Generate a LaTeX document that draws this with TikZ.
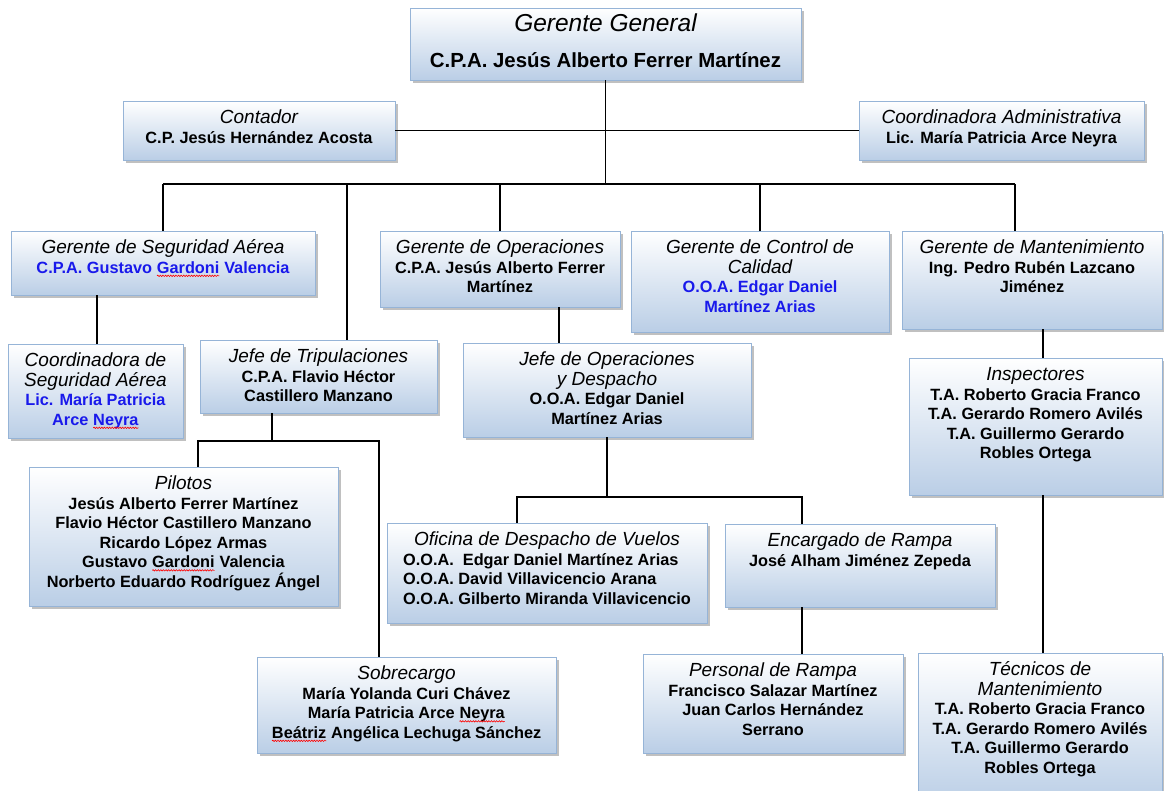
\documentclass[tikz,border=0pt]{standalone}
\usepackage{fontspec}
\setmainfont{Liberation Sans}
\usetikzlibrary{fit,shadows,decorations.pathmorphing}
\definecolor{boxbot}{RGB}{186,206,230}
\definecolor{boxline}{RGB}{150,180,215}
\definecolor{nameblue}{RGB}{25,25,235}
\tikzset{
 orgbox/.style={draw=boxline, line width=0.9pt, top color=white, bottom color=boxbot, inner sep=0pt,
   drop shadow={shadow xshift=3pt, shadow yshift=-3pt, fill=black!45, opacity=0.55}},
 orgtext/.style={align=center, inner sep=0pt, font=\fontsize{16.3}{19.5}\selectfont},
 link/.style={draw=black, line width=1.1pt},
}
\newcommand\ti{\fontsize{19}{19.5}\selectfont\itshape}
\newcommand\bd{\fontsize{16.3}{19.5}\selectfont\bfseries}
\newcommand\bl{\bd\color{nameblue}}
\newcommand\sq[1]{\tikz[baseline=(w.base)]{\node[inner sep=0pt,outer sep=0pt,font=] (w) {#1};%
 \draw[red,line width=0.6pt,decorate,decoration={snake,amplitude=0.7pt,segment length=2.6pt}]
 ([yshift=-2.6pt]w.base west) -- ([yshift=-2.6pt]w.base east);}}
\newcommand\obox[6]{\node[orgbox, fit={(#2,#3) (#4,#5)}] (#1) {};
 \node[orgtext, anchor=north] (#1-t) at ([yshift=-6pt]#1.north) {\rule{0pt}{17pt}#6};}
\begin{document}
\begin{tikzpicture}[x=1pt,y=-1pt]
\useasboundingbox (0,0) rectangle (1164,791);
\clip (0,0) rectangle (1164,791);

\obox{gg}{410}{8}{801}{80}{{\fontsize{24.5}{26}\selectfont\itshape Gerente General}\\[17pt]{\fontsize{20.4}{22}\selectfont\bfseries C.P.A. Jesús Alberto Ferrer Martínez}}
\obox{cont}{123}{101}{395}{160}{{\ti Contador}\\{\bd C.P. Jesús Hernández Acosta}}
\obox{cadm}{859}{101}{1144}{160}{{\ti Coordinadora Administrativa}\\{\bd Lic. María Patricia Arce Neyra}}
\obox{gsa}{11}{231}{315}{295}{{\ti Gerente de Seguridad Aérea}\\{\bl C.P.A. Gustavo \sq{Gardoni} Valencia}}
\obox{gop}{380}{231}{620}{307}{{\ti Gerente de Operaciones}\\{\bd C.P.A. Jesús Alberto Ferrer}\\{\bd Martínez}}
\obox{gcc}{631}{231}{889}{332}{{\ti Gerente de Control de}\\{\ti Calidad}\\{\bl O.O.A. Edgar Daniel}\\{\bl Martínez Arias}}
\obox{gm}{902}{231}{1162}{329}{{\ti Gerente de Mantenimiento}\\{\bd Ing. Pedro Rubén Lazcano}\\{\bd Jiménez}}
\obox{csa}{8}{344}{183}{438}{{\ti Coordinadora de}\\{\ti Seguridad Aérea}\\{\bl Lic. María Patricia}\\{\bl Arce \sq{Neyra}}}
\obox{jt}{200}{340}{437}{413}{{\ti Jefe de Tripulaciones}\\{\bd C.P.A. Flavio Héctor}\\{\bd Castillero Manzano}}
\obox{jod}{463}{343}{751}{437}{{\ti Jefe de Operaciones}\\{\ti y Despacho}\\{\bd O.O.A. Edgar Daniel}\\{\bd Martínez Arias}}
\obox{insp}{909}{358}{1162}{495}{{\ti Inspectores}\\{\bd T.A. Roberto Gracia Franco}\\{\bd T.A. Gerardo Romero Avilés}\\{\bd T.A. Guillermo Gerardo}\\{\bd Robles Ortega}}
\obox{pil}{29}{467}{338}{606}{{\ti Pilotos}\\{\bd Jesús Alberto Ferrer Martínez}\\{\bd Flavio Héctor Castillero Manzano}\\{\bd Ricardo López Armas}\\{\bd Gustavo \sq{Gardoni} Valencia}\\{\bd Norberto Eduardo Rodríguez Ángel}}
\obox{odv}{387}{523}{707}{623}{{\ti Oficina de Despacho de Vuelos}\\{\bd\begin{tabular}[t]{@{}l@{}}O.O.A.\ \ Edgar Daniel Martínez Arias\\O.O.A. David Villavicencio Arana\\O.O.A. Gilberto Miranda Villavicencio\end{tabular}}}
\obox{er}{725}{524}{995}{607}{{\ti Encargado de Rampa}\\{\bd José Alham Jiménez Zepeda}}
\obox{sob}{257}{657}{556}{753}{{\ti Sobrecargo}\\{\bd María Yolanda Curi Chávez}\\{\bd María Patricia Arce \sq{Neyra}}\\{\bd \sq{Beátriz} Angélica Lechuga Sánchez}}
\obox{pr}{643}{654}{903}{753}{{\ti Personal de Rampa}\\{\bd Francisco Salazar Martínez}\\{\bd Juan Carlos Hernández}\\{\bd Serrano}}
\obox{tec}{918}{653}{1162}{805}{{\ti Técnicos de}\\{\ti Mantenimiento}\\{\bd T.A. Roberto Gracia Franco}\\{\bd T.A. Gerardo Romero Avilés}\\{\bd T.A. Guillermo Gerardo}\\{\bd Robles Ortega}}

% connectors
\coordinate (bus) at (605,184);
\coordinate (jtd) at (347,184);
\coordinate (gmd) at (1015,184);
\coordinate (sd) at (97,0);
\coordinate (jtb) at (272,441);
\coordinate (pd) at (198,441);
\coordinate (sbd) at (379,441);
\coordinate (gj) at (559,0);
\coordinate (jb) at (607,497);
\coordinate (ol) at (517,497);
\coordinate (orr) at (802,497);
\coordinate (mx) at (1043,0);

\draw[link] (gg.south) -- (gg.south |- bus);
\draw[link] (cont.east) -- (cont.east -| cadm.west);
\draw[link] (gsa.north |- bus) -- (gmd);
\draw[link] (gsa.north |- bus) -- (gsa.north);
\draw[link] (jtd) -- (jtd |- jt.north);
\draw[link] (gop.north |- bus) -- (gop.north);
\draw[link] (gcc.north |- bus) -- (gcc.north);
\draw[link] (gmd) -- (gmd |- gm.north);
\draw[link] (sd |- gsa.south) -- (sd |- csa.north);
\draw[link] (jtb |- jt.south) -- (jtb);
\draw[link] (pd |- pil.north) -- (pd) -- (sbd) -- (sbd |- sob.north);
\draw[link] (gj |- gop.south) -- (gj |- jod.north);
\draw[link] (jb |- jod.south) -- (jb);
\draw[link] (ol |- odv.north) -- (ol) -- (orr) -- (orr |- er.north);
\draw[link] (orr |- er.south) -- (orr |- pr.north);
\draw[link] (mx |- gm.south) -- (mx |- insp.north);
\draw[link] (mx |- insp.south) -- (mx |- tec.north);
\end{tikzpicture}
\end{document}
